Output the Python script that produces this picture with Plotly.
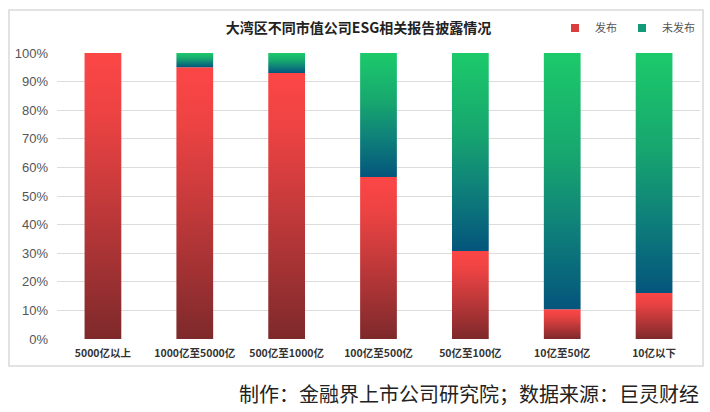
import plotly.graph_objects as go

categories = ["5000亿以上", "1000亿至5000亿", "500亿至1000亿", "100亿至500亿", "50亿至100亿", "10亿至50亿", "10亿以下"]
published = [100, 95, 93, 56.6, 30.8, 10.4, 16.1]
unpublished = [round(100 - v, 1) for v in published]
series_names = ["发布", "未发布"]
y_ticks = [0, 10, 20, 30, 40, 50, 60, 70, 80, 90, 100]
y_ticklabels = [f"{v}%" for v in y_ticks]

red_scale = [[0, "#7e292b"], [0.5, "#c63a3b"], [0.8, "#ee4343"], [1, "#fc4646"]]
green_scale = [[0, "#04557c"], [0.3, "#0e7e7a"], [0.6, "#17a66f"], [1, "#1cca6a"]]
legend_colors = ["#d93d3d", "#139a78"]

half = 0.2
fig = go.Figure()

# legend entries (small squares)
for name, col in zip(series_names, legend_colors):
    fig.add_trace(go.Scatter(x=[None], y=[None], mode="markers", name=name, legendgroup=name,
                             marker=dict(symbol="square", size=8, color=col), hoverinfo="skip"))

def add_seg(i, y0, y1, name, scale, color):
    if y1 - y0 <= 0:
        return
    fig.add_trace(go.Scatter(
        x=[i - half, i + half, i + half, i - half, i - half],
        y=[y0, y0, y1, y1, y0],
        mode="lines", line=dict(width=0, color=color),
        fill="toself", fillcolor=color,
        fillgradient=dict(type="vertical", colorscale=scale),
        name=name, legendgroup=name, showlegend=False, hoverinfo="skip"))

for i, p in enumerate(published):
    add_seg(i, 0, p, series_names[0], red_scale, legend_colors[0])
for i, (p, u) in enumerate(zip(published, unpublished)):
    add_seg(i, p, p + u, series_names[1], green_scale, legend_colors[1])

fig.update_layout(
    width=710, height=412,
    margin=dict(l=57, r=10, t=53, b=73),
    paper_bgcolor="white", plot_bgcolor="white",
    font=dict(family="Noto Sans CJK SC", color="#444"),
    title=dict(text="<b>大湾区不同市值公司ESG相关报告披露情况</b>", x=0.505, xanchor="center",
               y=1 - 28 / 412, yanchor="middle", font=dict(size=14, color="#222")),
    showlegend=True,
    legend=dict(orientation="h", x=1.0, xanchor="right", y=(339 - 28) / 286, yanchor="middle",
                font=dict(size=11, color="#555"), itemwidth=30, bgcolor="rgba(0,0,0,0)",
                traceorder="normal", tracegroupgap=0),
    xaxis=dict(range=[-0.5, 6.5], tickvals=list(range(len(categories))),
               ticktext=[f"<b>{c}</b>" for c in categories],
               tickfont=dict(size=10.5, color="#333"), showgrid=False, zeroline=False,
               showline=False, ticks="", ticklabelstandoff=6, fixedrange=True),
    yaxis=dict(range=[0, 100], tickvals=y_ticks, ticktext=y_ticklabels,
               tickfont=dict(family="Liberation Sans", size=13, color="#555"),
               showgrid=True, gridcolor="#dcdcdc",
               gridwidth=1, zeroline=False, showline=False, ticks="", ticklen=0,
               ticklabelstandoff=8, fixedrange=True),
    shapes=[dict(type="rect", xref="paper", yref="paper",
                 x0=(9 - 57) / 643, x1=(703 - 57) / 643,
                 y0=(339 - 366) / 286, y1=(339 - 10) / 286,
                 line=dict(color="#d9d9d9", width=1.5), fillcolor="rgba(0,0,0,0)", layer="below")],
    annotations=[dict(text="制作：金融界上市公司研究院；数据来源：巨灵财经", xref="paper", yref="paper",
                      x=(701 - 57) / 643, y=(339 - 393) / 286, xanchor="right", yanchor="middle",
                      showarrow=False, font=dict(size=20, color="#222"))],
)

fig.write_html("out.html")
